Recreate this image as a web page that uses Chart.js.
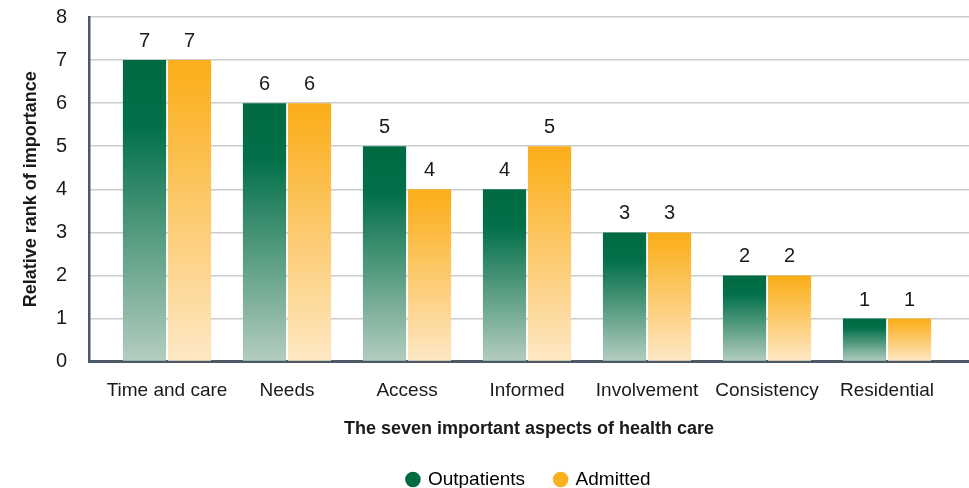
<!DOCTYPE html>
<html>
<head>
<meta charset="utf-8">
<script src="https://cdn.jsdelivr.net/npm/chart.js@4"></script>
<style>
  html, body { margin: 0; padding: 0; background: #fff; }
  #wrap { width: 969px; height: 488px; position: relative; }
</style>
</head>
<body>
<div id="wrap"><canvas id="chart"></canvas></div>
<script>
// Data
const categories = ['Time and care', 'Needs', 'Access', 'Informed', 'Involvement', 'Consistency', 'Residential'];
const outpatients = [7, 6, 5, 4, 3, 2, 1];
const admitted = [7, 6, 4, 5, 3, 2, 1];
const yTicks = [0, 1, 2, 3, 4, 5, 6, 7, 8];

const FONT = '"Liberation Sans Narrow", "Liberation Sans", Arial, sans-serif';
const GREEN = '#006a41';
const ORANGE = '#fbb01f';

// vertical gradient from top of each bar down to the zero line
function barGradient(stops) {
    return function (context) {
        const chart = context.chart;
        const y = chart.scales.y;
        if (!chart.chartArea || !y || context.type !== 'data') {
            return stops[0][1];
        }
        const top = y.getPixelForValue(context.raw.y);
        const bottom = y.getPixelForValue(0);
        const g = chart.ctx.createLinearGradient(0, top, 0, bottom);
        stops.forEach(s => g.addColorStop(s[0], s[1]));
        return g;
    };
}

// value labels over the bars
const valueLabels = {
    id: 'valueLabels',
    afterDatasetsDraw(chart) {
        const ctx = chart.ctx;
        ctx.save();
        ctx.font = '20px ' + FONT;
        ctx.fillStyle = '#1a1a1a';
        ctx.textAlign = 'center';
        ctx.textBaseline = 'alphabetic';
        chart.data.datasets.forEach((ds, i) => {
            chart.getDatasetMeta(i).data.forEach((bar, j) => {
                ctx.fillText(ds.data[j].y, bar.x, bar.y - 13);
            });
        });
        ctx.restore();
    }
};

new Chart(document.getElementById('chart'), {
    type: 'bar',
    data: {
        datasets: [{
            label: 'Outpatients',
            data: outpatients.map((v, i) => ({ x: i, y: v })),
            backgroundColor: barGradient([[0, '#006a41'], [0.22, '#03704a'], [1, '#b4cdbf']]),
            borderWidth: 0,
            categoryPercentage: 0.75,
            barPercentage: 0.96
        }, {
            label: 'Admitted',
            data: admitted.map((v, i) => ({ x: i, y: v })),
            backgroundColor: barGradient([[0, '#fbae1a'], [0.1, '#fbb227'], [1, '#fee8c5']]),
            borderWidth: 0,
            categoryPercentage: 0.75,
            barPercentage: 0.96
        }]
    },
    options: {
        responsive: true,
        maintainAspectRatio: false,
        animation: false,
        layout: { padding: { top: 17, right: 0, left: 2, bottom: 0 } },
        scales: {
            x: {
                type: 'linear',
                offset: false,
                min: -0.65,
                max: 6.683,
                afterBuildTicks: axis => {
                    axis.ticks = categories.map((c, i) => ({ value: i }));
                },
                grid: { display: false, offset: false },
                border: { display: true, color: '#4b5967', width: 3 },
                ticks: {
                    autoSkip: false,
                    maxRotation: 0,
                    padding: 10,
                    color: '#1a1a1a',
                    font: { family: FONT, size: 19 },
                    callback: v => categories[v]
                },
                title: {
                    display: true,
                    text: 'The seven important aspects of health care',
                    color: '#1a1a1a',
                    font: { family: FONT, size: 18, weight: 'bold' },
                    padding: { top: 6, bottom: 0 }
                }
            },
            y: {
                min: 0,
                max: 8,
                afterBuildTicks: axis => {
                    axis.ticks = yTicks.map(v => ({ value: v }));
                },
                afterFit: axis => {
                    axis.width = 87;
                    axis.paddingTop = 0;
                    axis.paddingBottom = 0;
                },
                grid: { color: '#c7ccd2', lineWidth: 1.5, drawTicks: false },
                border: { display: true, color: '#4b5967', width: 2.5 },
                ticks: {
                    padding: 22,
                    color: '#1a1a1a',
                    font: { family: FONT, size: 20 }
                },
                title: {
                    display: true,
                    text: 'Relative rank of importance',
                    color: '#1a1a1a',
                    font: { family: FONT, size: 18, weight: 'bold' },
                    padding: { top: 18, bottom: 4 }
                }
            }
        },
        plugins: {
            legend: {
                position: 'bottom',
                fullSize: false,
                maxHeight: 48,
                labels: {
                    usePointStyle: true,
                    pointStyle: 'circle',
                    boxWidth: 11,
                    boxHeight: 11,
                    padding: 30,
                    color: '#1a1a1a',
                    font: { family: FONT, size: 19 },
                    generateLabels: chart => [
                        { text: 'Outpatients', fillStyle: GREEN, strokeStyle: GREEN, lineWidth: 0, pointStyle: 'circle', datasetIndex: 0 },
                        { text: 'Admitted', fillStyle: ORANGE, strokeStyle: ORANGE, lineWidth: 0, pointStyle: 'circle', datasetIndex: 1 }
                    ]
                }
            },
            tooltip: { enabled: false }
        }
    },
    plugins: [valueLabels]
});
</script>
</body>
</html>
